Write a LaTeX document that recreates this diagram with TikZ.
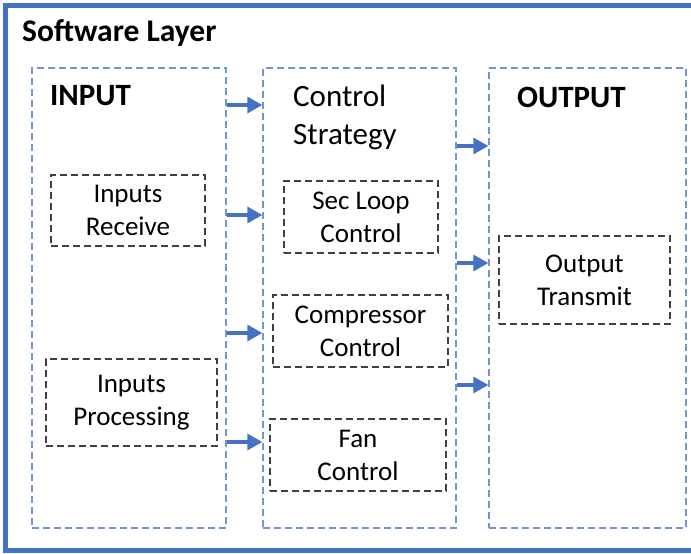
\documentclass[tikz,border=0pt]{standalone}
\usepackage{fontspec}
\setmainfont{Carlito}
\usetikzlibrary{positioning, calc, arrows.meta}
\usepackage{xcolor}
\definecolor{frameblue}{RGB}{68,114,196}
\definecolor{colblue}{RGB}{112,148,212}
\definecolor{boxgrey}{RGB}{64,64,64}

\begin{document}
\begin{tikzpicture}[x=1pt, y=-1pt,
    column/.style={draw=colblue, line width=1.3pt, dash pattern=on 7pt off 4pt,
                   minimum height=460pt, inner sep=0pt},
    task/.style={draw=boxgrey, line width=1.3pt, dash pattern=on 7pt off 4pt,
                 align=center, inner sep=0pt,
                 font=\fontsize{27}{33}\selectfont},
    heading/.style={font=\fontsize{31}{38}\selectfont\bfseries, inner sep=0pt, anchor=west},
    flow/.style={frameblue, line width=3.2pt,
                 -{Triangle[length=15pt, width=16pt]}}]
  \useasboundingbox (0,0) rectangle (691,554);
  % outer layer frame, open on the right
  \draw[frameblue, line width=5pt] (691,5) -- (5,5) -- (5,550) -- (691,550);
  \node[heading, font=\fontsize{31.5}{38}\selectfont\bfseries] (title) at (22,33) {Software Layer};

  % the three columns
  \node[column, minimum width=194pt] (inp) at (129,298) {};
  \node[column, minimum width=193pt] (ctl) at (359.5,298) {};
  \node[column, minimum width=197pt] (out) at (587.5,298) {};

  \node[heading] (inplbl) at (50,96) {INPUT};
  \node[inner sep=0pt, anchor=west, align=left,
        font=\fontsize{31}{38}\selectfont] (ctllbl) at (293,117) {Control\\Strategy};
  \node[heading] (outlbl) at (517,97) {OUTPUT};

  % tasks inside the columns
  \node[task, minimum width=154pt, minimum height=71pt] (recv) at (128,210.5) {Inputs\\Receive};
  \node[task, minimum width=171pt, minimum height=87pt] (proc) at (131.5,402.5) {Inputs\\Processing};
  \node[task, minimum width=154pt, minimum height=72pt] (secl) at (361,217) {Sec Loop\\Control};
  \node[task, minimum width=175pt, minimum height=72pt] (comp) at (360.5,331) {Compressor\\Control};
  \node[task, minimum width=176pt, minimum height=72pt] (fan) at (358,455) {Fan\\Control};
  \node[task, minimum width=171pt, minimum height=88pt] (tx) at (584.5,280) {Output\\Transmit};

  % data flow between columns
  \foreach \y in {105,215,333,442}
    \draw[flow] (inp.east |- 0,\y) -- (ctl.west |- 0,\y);
  \foreach \y in {146,263,385}
    \draw[flow] (ctl.east |- 0,\y) -- (out.west |- 0,\y);
\end{tikzpicture}
\end{document}
